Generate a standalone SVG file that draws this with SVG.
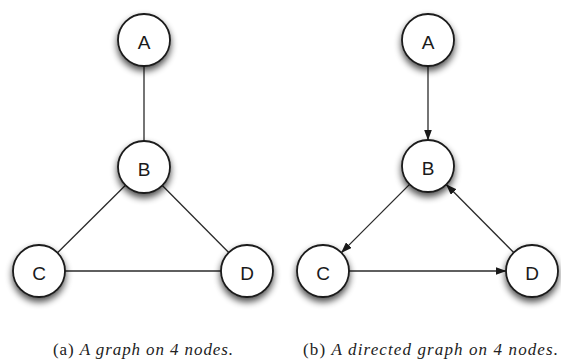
<svg xmlns="http://www.w3.org/2000/svg" width="561" height="362" viewBox="0 0 561 362">
<style>
.node circle{fill:#fff;stroke:#1a1a1a;stroke-width:1.8;filter:url(#sh)}
.node text{font-family:"Liberation Sans",Arial,sans-serif;font-size:19px;fill:#1a1a1a;text-anchor:middle;dominant-baseline:central}
.edge{stroke:#2a2a2a;stroke-width:1.3;fill:none}
.arr{marker-end:url(#ah)}
.cap{font-family:"Liberation Serif","Times New Roman",serif;font-size:17px;fill:#222}
.cap .it{font-style:italic}
</style>
<defs>
<filter id="sh" x="-50%" y="-50%" width="200%" height="200%">
<feGaussianBlur in="SourceAlpha" stdDeviation="3.5"/>
<feOffset dx="0" dy="4" result="b"/>
<feComponentTransfer><feFuncA type="linear" slope="0.7"/></feComponentTransfer>
<feMerge><feMergeNode/><feMergeNode in="SourceGraphic"/></feMerge>
</filter>
<marker id="ah" markerUnits="userSpaceOnUse" markerWidth="11" markerHeight="8" refX="10.5" refY="4" orient="auto">
<path d="M0,0 L11,4 L0,8 z" fill="#1a1a1a"/>
</marker>
</defs>
<g id="connectors">
<line class="edge" x1="144" y1="66" x2="144" y2="141"/>
<line class="edge" x1="125.5" y1="185.3" x2="57.5" y2="252.7"/>
<line class="edge" x1="162.3" y1="185.5" x2="228.7" y2="252.5"/>
<line class="edge" x1="65" y1="271" x2="221" y2="271"/>
<line class="edge arr" x1="428" y1="66" x2="428" y2="140"/>
<line class="edge arr" x1="409.6" y1="184.4" x2="341.4" y2="252.6"/>
<line class="edge arr" x1="513.7" y1="252.5" x2="446.3" y2="184.5"/>
<line class="edge arr" x1="349" y1="271" x2="506" y2="271"/>
</g>
<g id="a-A" class="node"><circle cx="144" cy="40" r="26"/><text x="144" y="42">A</text></g>
<g id="a-B" class="node"><circle cx="144" cy="167" r="26"/><text x="144" y="169">B</text></g>
<g id="a-C" class="node"><circle cx="39" cy="271" r="26"/><text x="39" y="273">C</text></g>
<g id="a-D" class="node"><circle cx="247" cy="271" r="26"/><text x="247" y="273">D</text></g>
<g id="b-A" class="node"><circle cx="428" cy="40" r="26"/><text x="428" y="42">A</text></g>
<g id="b-B" class="node"><circle cx="428" cy="166" r="26"/><text x="428" y="168">B</text></g>
<g id="b-C" class="node"><circle cx="323" cy="271" r="26"/><text x="323" y="273">C</text></g>
<g id="b-D" class="node"><circle cx="532" cy="271" r="26"/><text x="532" y="273">D</text></g>
<text class="cap" x="53" y="355" textLength="180" lengthAdjust="spacing">(a) <tspan class="it">A graph on 4 nodes.</tspan></text>
<text class="cap" x="303" y="355" textLength="255" lengthAdjust="spacing">(b) <tspan class="it">A directed graph on 4 nodes.</tspan></text>
</svg>
